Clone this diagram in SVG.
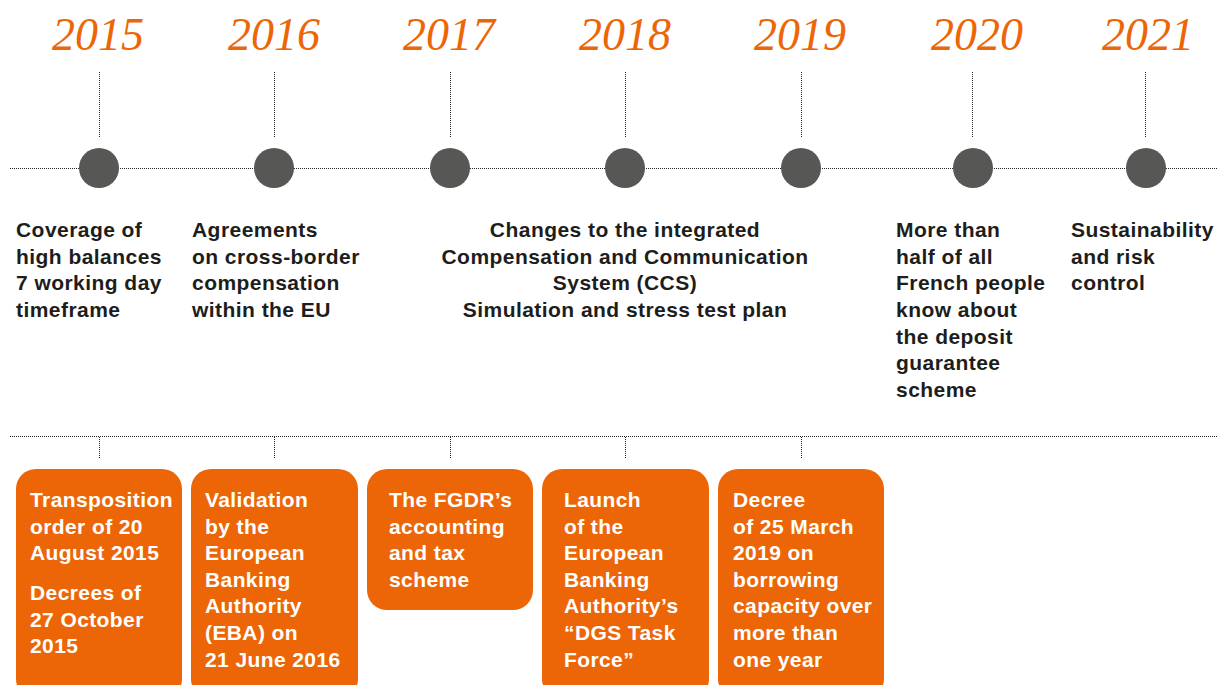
<svg xmlns="http://www.w3.org/2000/svg" width="1218" height="685" viewBox="0 0 1218 685">
<style>
.yr{font-family:"Liberation Serif",serif;font-style:italic;font-size:46px;fill:#EC6608;text-anchor:middle}
.dot{stroke:#222;stroke-width:1;stroke-dasharray:1 1;fill:none}
.ball{fill:#575756}
.lbl{font-family:"Liberation Sans",Arial,sans-serif;font-weight:bold;font-size:21px;letter-spacing:0.45px;fill:#1d1d1b}
.box{fill:#EC6608}
.bt{font-family:"Liberation Sans",Arial,sans-serif;font-weight:bold;font-size:21px;letter-spacing:0.4px;fill:#fff}
</style>
<rect width="1218" height="685" fill="#fff"/>
<g id="connectors">
<line class="dot" x1="10" y1="168.5" x2="1218" y2="168.5"/>
<line class="dot" x1="10" y1="436.5" x2="1218" y2="436.5"/>
<line class="dot" x1="99.5" y1="72" x2="99.5" y2="137"/>
<line class="dot" x1="274.5" y1="72" x2="274.5" y2="137"/>
<line class="dot" x1="450.5" y1="72" x2="450.5" y2="137"/>
<line class="dot" x1="625.5" y1="72" x2="625.5" y2="137"/>
<line class="dot" x1="801.5" y1="72" x2="801.5" y2="137"/>
<line class="dot" x1="972.5" y1="72" x2="972.5" y2="137"/>
<line class="dot" x1="1145.5" y1="72" x2="1145.5" y2="137"/>
<line class="dot" x1="99.5" y1="437" x2="99.5" y2="458"/>
<line class="dot" x1="274.5" y1="437" x2="274.5" y2="458"/>
<line class="dot" x1="450.5" y1="437" x2="450.5" y2="458"/>
<line class="dot" x1="625.5" y1="437" x2="625.5" y2="458"/>
<line class="dot" x1="801.5" y1="437" x2="801.5" y2="458"/>
</g>
<g id="y2015">
<text class="yr" x="98" y="50">2015</text>
<circle class="ball" cx="99" cy="168" r="20"/>
<text class="lbl" x="16" y="237">Coverage of</text>
<text class="lbl" x="16" y="263.7">high balances</text>
<text class="lbl" x="16" y="290.4">7 working day</text>
<text class="lbl" x="16" y="317">timeframe</text>
</g>
<g id="y2016">
<text class="yr" x="274" y="50">2016</text>
<circle class="ball" cx="274" cy="168" r="20"/>
<text class="lbl" x="192" y="237">Agreements</text>
<text class="lbl" x="192" y="263.7">on cross-border</text>
<text class="lbl" x="192" y="290.4">compensation</text>
<text class="lbl" x="192" y="317">within the EU</text>
</g>
<g id="y2017">
<text class="yr" x="449" y="50">2017</text>
<circle class="ball" cx="450" cy="168" r="20"/>
</g>
<g id="y2018">
<text class="yr" x="625" y="50">2018</text>
<circle class="ball" cx="625" cy="168" r="20"/>
<text class="lbl" x="625" y="237" text-anchor="middle">Changes to the integrated</text>
<text class="lbl" x="625" y="263.7" text-anchor="middle">Compensation and Communication</text>
<text class="lbl" x="625" y="290.4" text-anchor="middle">System (CCS)</text>
<text class="lbl" x="625" y="317" text-anchor="middle">Simulation and stress test plan</text>
</g>
<g id="y2019">
<text class="yr" x="800" y="50">2019</text>
<circle class="ball" cx="801" cy="168" r="20"/>
</g>
<g id="y2020">
<text class="yr" x="977" y="50">2020</text>
<circle class="ball" cx="973" cy="168" r="20"/>
<text class="lbl" x="896" y="237">More than</text>
<text class="lbl" x="896" y="263.7">half of all</text>
<text class="lbl" x="896" y="290.4">French people</text>
<text class="lbl" x="896" y="317">know about</text>
<text class="lbl" x="896" y="343.7">the deposit</text>
<text class="lbl" x="896" y="370.4">guarantee</text>
<text class="lbl" x="896" y="397">scheme</text>
</g>
<g id="y2021">
<text class="yr" x="1148" y="50">2021</text>
<circle class="ball" cx="1146" cy="168" r="20"/>
<text class="lbl" x="1071" y="237">Sustainability</text>
<text class="lbl" x="1071" y="263.7">and risk</text>
<text class="lbl" x="1071" y="290.4">control</text>
</g>
<g id="box2015">
<rect class="box" x="16" y="469" width="166" height="230" rx="20"/>
<text class="bt" x="30" y="507">Transposition</text>
<text class="bt" x="30" y="533.6">order of 20</text>
<text class="bt" x="30" y="560.2">August 2015</text>
<text class="bt" x="30" y="600">Decrees of</text>
<text class="bt" x="30" y="626.6">27 October</text>
<text class="bt" x="30" y="653.2">2015</text>
</g>
<g id="box2016">
<rect class="box" x="191" y="469" width="167" height="230" rx="20"/>
<text class="bt" x="205" y="507">Validation</text>
<text class="bt" x="205" y="533.6">by the</text>
<text class="bt" x="205" y="560.2">European</text>
<text class="bt" x="205" y="586.8">Banking</text>
<text class="bt" x="205" y="613.4">Authority</text>
<text class="bt" x="205" y="640">(EBA) on</text>
<text class="bt" x="205" y="666.6">21 June 2016</text>
</g>
<g id="box2017">
<rect class="box" x="367" y="469" width="166" height="141" rx="20"/>
<text class="bt" x="389" y="507">The FGDR’s</text>
<text class="bt" x="389" y="533.6">accounting</text>
<text class="bt" x="389" y="560.2">and tax</text>
<text class="bt" x="389" y="586.8">scheme</text>
</g>
<g id="box2018">
<rect class="box" x="542" y="469" width="167" height="230" rx="20"/>
<text class="bt" x="564" y="507">Launch</text>
<text class="bt" x="564" y="533.6">of the</text>
<text class="bt" x="564" y="560.2">European</text>
<text class="bt" x="564" y="586.8">Banking</text>
<text class="bt" x="564" y="613.4">Authority’s</text>
<text class="bt" x="564" y="640">“DGS Task</text>
<text class="bt" x="564" y="666.6">Force”</text>
</g>
<g id="box2019">
<rect class="box" x="718" y="469" width="166" height="230" rx="20"/>
<text class="bt" x="733" y="507">Decree</text>
<text class="bt" x="733" y="533.6">of 25 March</text>
<text class="bt" x="733" y="560.2">2019 on</text>
<text class="bt" x="733" y="586.8">borrowing</text>
<text class="bt" x="733" y="613.4">capacity over</text>
<text class="bt" x="733" y="640">more than</text>
<text class="bt" x="733" y="666.6">one year</text>
</g>
</svg>
